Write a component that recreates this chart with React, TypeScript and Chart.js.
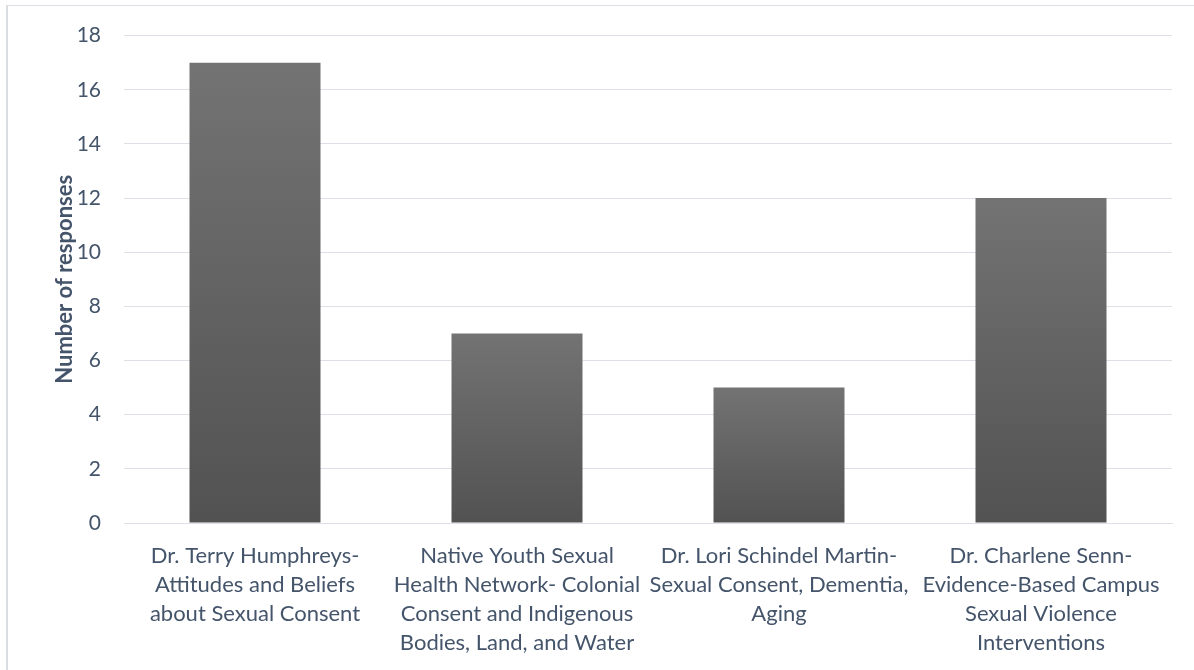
import React, { useEffect, useRef } from "react";
import { Chart, registerables } from "chart.js";

Chart.register(...registerables);

// Session titles, wrapped the way they appear under each bar
const categories: string[][] = [
  ["Dr. Terry Humphreys-", "Attitudes and Beliefs", "about Sexual Consent"],
  ["Native Youth Sexual", "Health Network- Colonial", "Consent and Indigenous", "Bodies, Land, and Water"],
  ["Dr. Lori Schindel Martin-", "Sexual Consent, Dementia,", "Aging"],
  ["Dr. Charlene Senn-", "Evidence-Based Campus", "Sexual Violence", "Interventions"],
];

const responses: number[] = [17, 7, 5, 12];

const yAxisTitle = "Number of responses";
const yMin = 0;
const yMax = 18;
const yStep = 2;

const FONT = "Lato, 'Open Sans', sans-serif";
const TEXT = "#44546a";
const GRID = "#dde1e7";

export default function App() {
  const canvasRef = useRef<HTMLCanvasElement | null>(null);

  useEffect(() => {
    const canvas = canvasRef.current;
    if (!canvas) return;

    const chart = new Chart(canvas, {
      type: "bar",
      data: {
        labels: categories,
        datasets: [
          {
            label: yAxisTitle,
            data: responses,
            categoryPercentage: 1,
            barPercentage: 0.5,
            borderWidth: 0,
            // each bar fades from a lighter grey at its top to a darker grey at the baseline
            backgroundColor: (ctx: any) => {
              const c = ctx.chart;
              const y = c.scales && c.scales.y;
              if (!c.chartArea || !y) return "#636363";
              const top = y.getPixelForValue(ctx.raw as number);
              const bottom = y.getPixelForValue(0);
              if (!isFinite(top) || !isFinite(bottom) || top === bottom) return "#636363";
              const g = c.ctx.createLinearGradient(0, top, 0, bottom);
              g.addColorStop(0, "#737373");
              g.addColorStop(1, "#525252");
              return g;
            },
          },
        ],
      },
      options: {
        responsive: false,
        animation: false,
        layout: { padding: { top: 34, right: 22, left: 0, bottom: 0 } },
        plugins: {
          legend: { display: false },
          tooltip: { enabled: false },
        },
        scales: {
          x: {
            grid: { display: false },
            border: { display: true, color: GRID, width: 1 },
            ticks: {
              color: TEXT,
              padding: 10,
              maxRotation: 0,
              autoSkip: false,
              font: { family: FONT, size: 22, lineHeight: 1.32 },
            },
            afterFit: (scale: any) => {
              scale.height = 147;
            },
          },
          y: {
            min: yMin,
            max: yMax,
            grid: { color: GRID, lineWidth: 1, drawTicks: false },
            border: { display: false },
            ticks: {
              stepSize: yStep,
              color: TEXT,
              padding: 23,
              font: { family: FONT, size: 21 },
            },
            title: {
              display: true,
              text: yAxisTitle,
              color: TEXT,
              padding: { top: 52, bottom: 0 },
              font: { family: FONT, size: 22, weight: "bold", lineHeight: 1.2 },
            },
            afterFit: (scale: any) => {
              scale.width = 124;
            },
          },
        },
      },
    });

    return () => chart.destroy();
  }, []);

  return (
    <div
      style={{
        position: "fixed",
        left: 0,
        top: 0,
        width: 1194,
        height: 670,
        overflow: "hidden",
        background: "#ffffff",
      }}
    >
      <div
        style={{
          position: "absolute",
          left: 6,
          top: 5,
          width: 1220,
          height: 700,
          borderTop: "1px solid #dadde2",
          borderLeft: "2px solid #dadde2",
          boxSizing: "border-box",
        }}
      />
      <canvas
        ref={canvasRef}
        width={1194}
        height={670}
        style={{ position: "absolute", left: 0, top: 0, width: 1194, height: 670 }}
      />
    </div>
  );
}
